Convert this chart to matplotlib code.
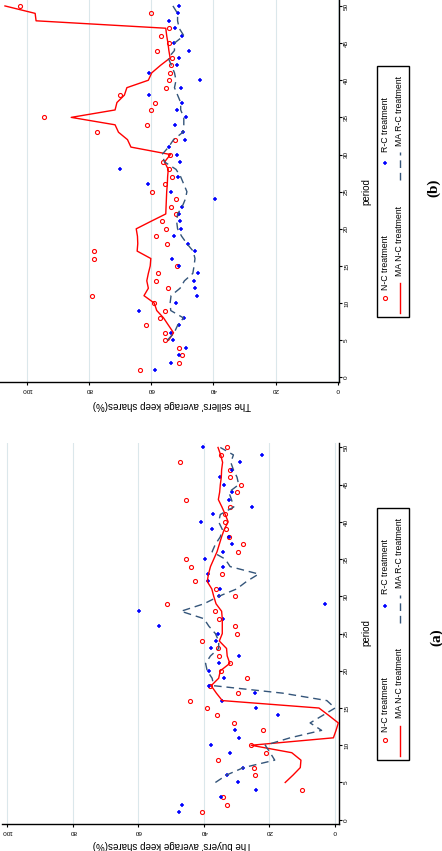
import matplotlib
matplotlib.use('Agg')
import matplotlib.pyplot as plt
import numpy as np
from matplotlib.lines import Line2D
from matplotlib.patches import Rectangle

plt.rcParams['font.family'] = ['Liberation Sans', 'DejaVu Sans']

nan = np.nan
periods = np.arange(1, 51)
ma_periods = np.arange(5, 51)

# Panel (a): buyers
buyers_nc = [40.6, 32.9, 34.1, 10.0, nan, 24.3, 24.6, 35.7, 21.1, 25.6,
             nan, 21.9, 30.7, 36.1, 39.0, 44.2, 29.7, 38.0, 26.8, 34.8,
             32.1, 35.4, 35.8, 40.6, 29.9, 30.5, 35.3, 36.7, 51.4, 30.4,
             36.2, 42.6, 34.4, 43.9, 45.5, 29.6, 28.2, 32.2, 33.4, 33.7,
             33.6, 32.0, 45.4, 30.0, 28.8, 32.1, 32.1, 47.4, 34.7, 32.9]
buyers_rc = [47.6, 46.6, 34.7, 24.2, 29.5, 33.1, 28.2, nan, 31.9, 37.8,
             29.4, 30.6, nan, 17.4, 24.2, 34.4, 24.3, 38.4, 34.0, 38.5,
             35.5, 29.2, 37.7, 36.4, 35.8, 53.6, 34.1, 59.8, 3.0, 35.5,
             35.0, 38.7, 38.7, 34.3, 39.6, 34.2, 31.3, 32.3, 37.5, 40.8,
             37.2, 25.3, 32.4, 31.3, 33.9, 35.0, 31.4, 28.9, 22.2, 40.2]
buyers_ma_nc = [15.2, 12.8, 10.6, 10.4, 13.2, 25.6, 0.5, -0.3, -1.0, 1.9,
                4.9, 34.4, 36.2, 37.8, 35.5, 35.0, 32.1, 32.9, 33.1, 35.3,
                34.4, 34.4, 34.4, 34.6, 36.3, 37.0, 37.6, 39.0, 38.6, 38.0,
                37.0, 36.0, 35.3, 34.6, 33.8, 32.6, 33.5, 34.5, 35.6, 35.2,
                35.0, 34.7, 34.6, 34.3, 34.9, 35.7]
buyers_ma_rc = [36.5, 33.1, 27.9, 18.4, 19.8, 21.3, 13.7, 4.1, 7.6, 3.8,
                0.0, 2.5, 16.0, 37.0, 37.5, 39.0, 39.5, 38.0, 35.5, 35.5,
                36.5, 38.5, 40.0, 47.0, 40.0, 35.5, 30.0, 27.0, 23.3, 32.0,
                33.5, 37.5, 36.5, 35.0, 34.4, 35.5, 35.0, 30.9, 31.6, 32.4,
                29.4, 29.9, 31.0, 31.8, 31.0, 35.0]

# Panel (b): sellers
sellers_nc = [63.6, 51.2, 50.2, 51.0, 55.7, 55.6, 61.6, 57.1, 55.4, 59.1,
              79.0, 54.7, 58.5, 57.9, 51.8, 78.3, 78.5, 54.9, 58.5, 55.1,
              56.5, 52.0, 53.6, 52.0, 59.7, 55.7, 53.2, 54.3, 56.3, 53.9,
              nan, 52.4, 77.5, 61.4, 94.3, 60.0, 58.9, 70.0, 55.2, 54.4,
              53.8, 53.5, 53.2, 58.1, 54.1, 56.8, 54.1, nan, 60.0, 102.1]
sellers_rc = [58.6, 53.6, 51.2, 48.8, 53.1, 53.7, 51.2, 49.3, 63.8, 52.0,
              45.2, 45.8, 46.3, 45.0, 50.9, 53.4, 46.0, 48.1, 52.8, 50.3,
              50.6, 50.9, 50.1, 39.4, 53.7, 60.9, 51.4, 70.0, 50.7, 51.8,
              54.2, 49.0, 49.9, 52.2, 48.9, 51.6, 50.2, 60.7, 50.5, 44.2,
              60.8, 51.8, 51.0, 47.9, 52.6, 50.2, 52.3, 54.2, 51.4, 51.1]
sellers_ma_nc = [54.4, 52.8, 54.4, 56.0, 58.2, 59.0, 62.3, 60.9, 61.4, 60.9,
                 60.3, 60.1, 64.5, 64.3, 64.4, 64.8, 60.1, 55.3, 55.2, 55.1,
                 55.0, 54.8, 54.7, 54.5, 55.7, 53.8, 66.5, 67.6, 70.5, 71.6,
                 85.7, 71.6, 71.0, 68.6, 67.8, 60.9, 59.8, 57.0, 53.9, 54.3,
                 54.6, 55.0, 55.3, 97.0, 97.3, 107.0]
sellers_ma_rc = [54.8, 52.6, 51.5, 49.6, 53.7, 53.9, 53.6, 50.7, 49.3, 46.6,
                 46.2, 45.9, 46.5, 48.5, 50.2, 51.5, 51.8, 51.5, 50.0, 49.0,
                 48.5, 49.5, 50.5, 52.0, 55.7, 56.5, 54.4, 52.8, 49.8, 49.5,
                 49.5, 50.5, 50.5, 51.5, 52.5, 52.0, 52.5, 53.5, 54.5, 52.5,
                 52.5, 49.5, 51.0, 51.5, 51.5, 53.0]

share_ticks = [0, 20, 40, 60, 80, 100]
period_ticks = list(range(0, 51, 5))
legend_labels = ['N-C treatment', 'R-C treatment', 'MA N-C treatment', 'MA R-C treatment']

W, H = 442, 851
RED = '#ff0000'
BLUE = '#0000ff'
DASH = '#34557a'
CIRC = dict(marker='o', mfc='none', mec=RED, ms=2.9, mew=0.8)
PLUS = dict(marker='+', color=BLUE, ms=3.0, mew=1.1)
DASHES = (5.5, 3.5)

fig = plt.figure(figsize=(W / 100, H / 100), dpi=100)


def fx(x):
    return x / W


def fy(y):
    return 1 - y / H


def make_panel(rect_px, xlim, ylim, nc, rc, ma_nc, ma_rc):
    l, t, r, b = rect_px
    ax = fig.add_axes([fx(l), fy(b), (r - l) / W, (b - t) / H])
    ax.patch.set_alpha(0)
    ax.set_xlim(*xlim)
    ax.set_ylim(*ylim)
    for s in ['top', 'left']:
        ax.spines[s].set_visible(False)
    for s in ['bottom', 'right']:
        ax.spines[s].set_linewidth(1.0)
    ax.set_xticks(share_ticks)
    ax.set_yticks(period_ticks)
    ax.yaxis.tick_right()
    ax.tick_params(axis='x', direction='out', length=2.4, width=0.8, pad=1.2,
                   labelsize=4.6, labelrotation=180)
    ax.tick_params(axis='y', direction='out', length=2.4, width=0.8, pad=1.0,
                   labelsize=4.6, labelrotation=90)
    for lbl in ax.get_yticklabels():
        lbl.set_va('center')
    ax.grid(axis='x', color='#dbe7eb', lw=0.8)
    ax.set_axisbelow(True)
    ax.plot(nc, periods, ls='none', zorder=3, **CIRC)
    ax.plot(rc, periods, ls='none', zorder=3, **PLUS)
    ax.plot(ma_nc, ma_periods, color=RED, lw=1.0, zorder=4)
    ax.plot(ma_rc, ma_periods, color=DASH, lw=1.0, dashes=DASHES, zorder=4)
    return ax


def legend(yoff):
    fig.add_artist(Rectangle((fx(377.3), fy(317.3 + yoff)), (409 - 377.3) / W,
                             (317.3 - 65.7) / H, transform=fig.transFigure,
                             fill=False, ec='black', lw=1.0))
    fig.add_artist(Line2D([fx(385)], [fy(297.7 + yoff)], transform=fig.transFigure, **CIRC))
    fig.add_artist(Line2D([fx(385)], [fy(163 + yoff)], transform=fig.transFigure, **PLUS))
    fig.add_artist(Line2D([fx(400), fx(400)], [fy(313 + yoff), fy(283 + yoff)],
                          color=RED, lw=1.0, transform=fig.transFigure))
    fig.add_artist(Line2D([fx(400), fx(400)], [fy(180 + yoff), fy(152 + yoff)],
                          color=DASH, lw=1.0, dashes=DASHES, transform=fig.transFigure))
    kw = dict(rotation=90, ha='center', va='bottom', fontsize=6.3)
    fig.text(fx(385), fy(290 + yoff), legend_labels[0], **kw)
    fig.text(fx(385), fy(152 + yoff), legend_labels[1], **kw)
    fig.text(fx(400), fy(276 + yoff), legend_labels[2], **kw)
    fig.text(fx(400), fy(146 + yoff), legend_labels[3], **kw)


# panel (b) top, panel (a) bottom
make_panel((0, 0, 339.3, 381.7), (108.6, -0.5), (-0.58, 50.8),
           sellers_nc, sellers_rc, sellers_ma_nc, sellers_ma_rc)
make_panel((2, 443, 339.3, 823.5), (101.6, -1.3), (-0.51, 50.6),
           buyers_nc, buyers_rc, buyers_ma_nc, buyers_ma_rc)

fig.text(fx(172), fy(405), "The sellers' average keep shares(%)", rotation=180,
         ha='center', va='center', fontsize=7)
fig.text(fx(172), fy(845), "The buyers' average keep shares(%)", rotation=180,
         ha='center', va='center', fontsize=7)
fig.text(fx(366), fy(192), 'period', rotation=90, ha='center', va='center', fontsize=7)
fig.text(fx(366), fy(633), 'period', rotation=90, ha='center', va='center', fontsize=7)
fig.text(fx(434), fy(188), '(b)', rotation=90, ha='center', va='center', fontsize=11,
         fontweight='bold', family=['Liberation Serif', 'DejaVu Serif'])
fig.text(fx(437), fy(637), '(a)', rotation=90, ha='center', va='center', fontsize=11,
         fontweight='bold', family=['Liberation Serif', 'DejaVu Serif'])

legend(0)
legend(442.5)

fig.savefig('out.png', dpi=100)
